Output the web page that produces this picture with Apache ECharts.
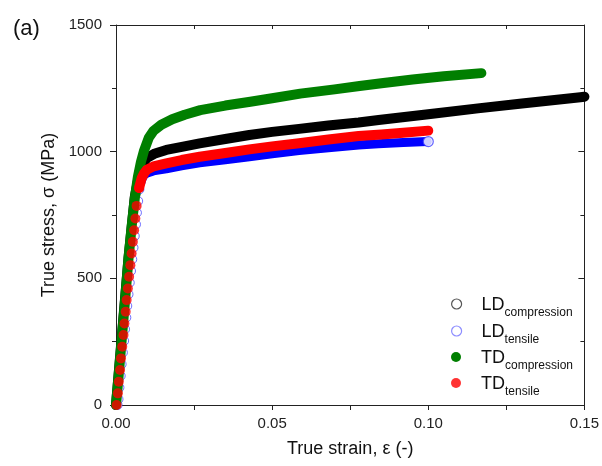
<!DOCTYPE html>
<html>
<head>
<meta charset="utf-8">
<script src="https://cdn.jsdelivr.net/npm/echarts@6/dist/echarts.min.js"></script>
<style>
html,body{margin:0;padding:0;background:#fff;}
#c{width:602px;height:466px;}
</style>
</head>
<body>
<div id="c"></div>
<script>
// ---- Data ----
const xTicks = [0, 0.05, 0.10, 0.15];
const yTicks = [0, 500, 1000, 1500];

// LD compression (black)
const ldCompStrain = [0, 0.002, 0.004, 0.006, 0.0075, 0.0088, 0.0098, 0.0125, 0.0161, 0.0215, 0.0268, 0.035, 0.0427, 0.05, 0.0586, 0.068, 0.0777, 0.0841, 0.1, 0.1159, 0.13, 0.1487, 0.15];
const ldCompStress = [0, 290, 580, 820, 915, 955, 974, 993, 1007, 1020, 1033, 1050, 1066, 1078, 1090, 1103, 1115, 1125, 1148, 1171, 1190, 1215, 1217];

// LD tensile (blue) - elastic part (separate open circles)
const ldTenElStrain = [0.0005, 0.0008, 0.0011, 0.0015, 0.0018, 0.0022, 0.0026, 0.0029, 0.0033, 0.0036, 0.004, 0.0044, 0.0048, 0.0052, 0.0056, 0.006, 0.0064, 0.0067, 0.0071, 0.0075, 0.0079];
const ldTenElStress = [0, 23, 69, 115, 161, 207, 253, 299, 345, 391, 437, 483, 529, 575, 621, 667, 713, 759, 805, 851, 880];
// LD tensile (blue) - plastic part (dense band)
const ldTenStrain = [0.0079, 0.0088, 0.0098, 0.012, 0.0161, 0.021, 0.0268, 0.035, 0.0427, 0.05, 0.0586, 0.068, 0.0777, 0.084, 0.092, 0.0997];
const ldTenStress = [880, 905, 915, 924, 932, 944, 956, 968, 980, 992, 1004, 1015, 1026, 1031, 1036, 1040];
const ldTenEnd = [0.1, 1040];

// TD compression (green)
const tdCompStrain = [0, 0.001, 0.002, 0.003, 0.004, 0.005, 0.006, 0.007, 0.008, 0.009, 0.0105, 0.012, 0.0145, 0.018, 0.022, 0.027, 0.035, 0.043, 0.05, 0.059, 0.07, 0.078, 0.085, 0.095, 0.105, 0.117];
const tdCompStress = [0, 140, 285, 430, 580, 705, 815, 900, 960, 1005, 1055, 1082, 1106, 1128, 1146, 1164, 1182, 1197, 1211, 1229, 1246, 1259, 1270, 1285, 1298, 1310];

// TD tensile (red) - elastic part (separate filled dots)
const tdTenElStrain = [0.0002, 0.0006, 0.0009, 0.0013, 0.0016, 0.002, 0.0024, 0.0027, 0.0031, 0.0034, 0.0038, 0.0042, 0.0046, 0.005, 0.0054, 0.0058, 0.0062, 0.0066, 0.0074];
const tdTenElStress = [0, 46, 92, 138, 184, 230, 276, 322, 368, 414, 460, 506, 552, 598, 644, 690, 736, 786, 857];
// TD tensile (red) - plastic part
const tdTenStrain = [0.0074, 0.0082, 0.009, 0.0098, 0.012, 0.0161, 0.021, 0.0268, 0.035, 0.0427, 0.05, 0.0586, 0.068, 0.0777, 0.085, 0.092, 0.1];
const tdTenStress = [857, 895, 915, 928, 942, 954, 967, 980, 995, 1009, 1021, 1033, 1048, 1062, 1068, 1075, 1083];

const seriesNames = ['LD compression', 'LD tensile', 'TD compression', 'TD tensile'];

// ---- Build chart ----
const FONT = '"Liberation Sans", Arial, sans-serif';
const AX = '#222';
function zip(xs, ys) { return xs.map((x, i) => [x, ys[i]]); }

const chart = echarts.init(document.getElementById('c'), null, {renderer: 'canvas'});

function bandLine(name, xs, ys, color, width, z) {
  return {
    name: name, type: 'line', data: zip(xs, ys), symbol: 'none', z: z,
    lineStyle: {color: color, width: width, cap: 'round', join: 'round'},
    itemStyle: {color: color}
  };
}

const legendIcon = {
  'LD compression': {color: '#fff', borderColor: '#555', borderWidth: 1.2},
  'LD tensile': {color: '#fff', borderColor: '#7070ff', borderWidth: 1.2},
  'TD compression': {color: '#007f00', borderWidth: 0},
  'TD tensile': {color: '#ff0000', borderWidth: 0}
};
const legendTops = [290, 317, 343, 369];

const legends = seriesNames.map((n, i) => ({
  orient: 'vertical', left: 446, top: legendTops[i],
  itemWidth: 40, itemHeight: 10,
  data: [{name: n, icon: 'circle', itemStyle: legendIcon[n]}],
  selectedMode: false,
  formatter: function (name) {
    const p = name.split(' ');
    return '{a|' + p[0] + '}{b|' + p[1] + '}';
  },
  textStyle: {
    color: '#111', fontFamily: FONT,
    rich: {
      a: {fontSize: 18, lineHeight: 18, padding: [1, 0, 0, 0], verticalAlign: 'top', fontFamily: FONT, color: '#111'},
      b: {fontSize: 12, lineHeight: 14, padding: [12, 0, 0, 0], verticalAlign: 'top', fontFamily: FONT, color: '#111'}
    }
  }
}));

const option = {
  animation: false,
  backgroundColor: '#fff',
  textStyle: {fontFamily: FONT},
  grid: {left: 116, right: 15, top: 25, bottom: 61},
  graphic: [{type: 'text', left: 13, top: 18, style: {text: '(a)', fontSize: 22, fontFamily: FONT, fill: '#111'}}],
  legend: legends,
  xAxis: [{
    type: 'value', min: xTicks[0], max: xTicks[xTicks.length - 1], interval: 0.05,
    name: 'True strain, ε (-)', nameLocation: 'middle', nameGap: 35,
    nameTextStyle: {fontSize: 18, color: '#111', fontFamily: FONT},
    axisLine: {onZero: false, lineStyle: {color: AX, width: 1}},
    axisTick: {length: 5, lineStyle: {color: AX}},
    minorTick: {show: true, splitNumber: 2, length: 5, lineStyle: {color: AX}},
    axisLabel: {fontSize: 15, color: '#222', margin: 11, fontFamily: FONT, formatter: v => v.toFixed(2)},
    splitLine: {show: false}
  }, {
    type: 'value', position: 'top', min: 0, max: 0.15, interval: 0.025,
    axisLine: {show: true, onZero: false, lineStyle: {color: AX, width: 1}},
    axisTick: {show: true, inside: true, length: 4, lineStyle: {color: AX}},
    axisLabel: {show: false}, splitLine: {show: false}
  }],
  yAxis: [{
    type: 'value', min: yTicks[0], max: yTicks[yTicks.length - 1], interval: 500,
    name: 'True stress, σ (MPa)', nameLocation: 'middle', nameGap: 55,
    nameTextStyle: {fontSize: 18, color: '#111', fontFamily: FONT},
    axisLine: {show: true, onZero: false, lineStyle: {color: AX, width: 1}},
    axisTick: {show: true, length: 6, lineStyle: {color: AX}},
    minorTick: {show: true, splitNumber: 2, length: 4, lineStyle: {color: AX}},
    axisLabel: {fontSize: 15, color: '#222', margin: 14, fontFamily: FONT, formatter: v => String(v)},
    splitLine: {show: false}
  }, {
    type: 'value', position: 'right', min: 0, max: 1500, interval: 500,
    axisLine: {show: true, onZero: false, lineStyle: {color: AX, width: 1}},
    axisTick: {show: true, inside: true, length: 6, lineStyle: {color: AX}},
    minorTick: {show: true, splitNumber: 2, length: 4, lineStyle: {color: AX}},
    axisLabel: {show: false}, splitLine: {show: false}
  }],
  series: [
    bandLine(seriesNames[0], ldCompStrain, ldCompStress, '#000000', 10, 2),
    {
      name: seriesNames[1], type: 'scatter', data: zip(ldTenElStrain, ldTenElStress), z: 3,
      symbol: 'circle', symbolSize: 9,
      itemStyle: {color: '#ffffff', borderColor: '#4a4aff', borderWidth: 1}
    },
    bandLine(seriesNames[1], ldTenStrain, ldTenStress, '#0000ff', 9, 3),
    {
      name: seriesNames[1], type: 'scatter', data: [ldTenEnd], z: 4,
      symbol: 'circle', symbolSize: 10,
      itemStyle: {color: '#ffffff', borderColor: '#3a3aff', borderWidth: 1.2}
    },
    bandLine(seriesNames[2], tdCompStrain, tdCompStress, '#007f00', 10, 5),
    {
      name: seriesNames[3], type: 'scatter', data: zip(tdTenElStrain, tdTenElStress), z: 6,
      symbol: 'circle', symbolSize: 10,
      itemStyle: {color: '#ff0000'}
    },
    bandLine(seriesNames[3], tdTenStrain, tdTenStress, '#ff0000', 10, 6)
  ]
};
chart.setOption(option);
</script>
</body>
</html>
